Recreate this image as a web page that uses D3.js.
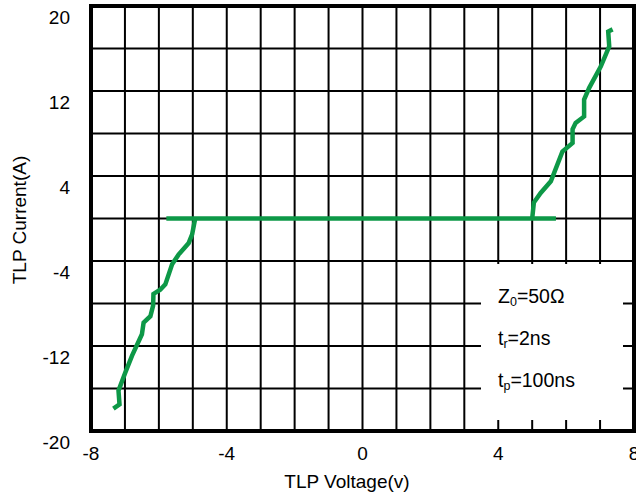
<!DOCTYPE html>
<html>
  <head>
    <meta charset="utf-8">
    <script src="https://d3js.org/d3.v7.min.js"></script>
    <style>
      body { margin: 0; background: #fff; }
      text { font-family: "Liberation Sans", Arial, sans-serif; fill: #000; }
    </style>
  </head>
  <body>
    <script type="text/javascript">
      // tick labels
      var xTicks = [-8, -4, 0, 4, 8];
      var yTicks = [20, 12, 4, -4, -12, -20];

      // TLP curve (volts, amps)
      var negV = [-4.93, -5.02, -5.12, -5.42, -5.61, -5.81, -5.96, -6.16, -6.17, -6.25, -6.45, -6.50, -6.79, -6.99, -7.19, -7.16, -7.34];
      var negI = [0, -1.5, -2.3, -3.4, -4.3, -6.2, -6.7, -7.1, -8.2, -9.2, -9.8, -10.9, -12.9, -14.5, -16.2, -17.5, -17.9];
      var flatV = [-5.78, 5.7];
      var flatI = [0, 0];
      var posV = [5.0, 5.05, 5.25, 5.55, 5.89, 6.19, 6.19, 6.28, 6.53, 6.53, 6.68, 7.02, 7.27, 7.24, 7.37];
      var posI = [0, 1.5, 2.4, 3.5, 6.3, 7.1, 8.4, 9.0, 9.6, 11.2, 12.3, 14.3, 16.2, 17.6, 17.8];

      var legendRows = [["Z", "0", "=50Ω"], ["t", "r", "=2ns"], ["t", "p", "=100ns"]];

      var w = 636, h = 495;
      var x = d3.scaleLinear().domain([-8, 8]).range([91, 634]);
      var y = d3.scaleLinear().domain([-20, 20]).range([431, 6]);
      var green = "#0d9847";

      var svg = d3.select("body").append("svg")
        .attr("width", w)
        .attr("height", h);

      // grid
      svg.append("g").selectAll("line").data(d3.range(-7, 8, 1)).enter().append("line")
        .attr("x1", d => x(d)).attr("x2", d => x(d))
        .attr("y1", y(20)).attr("y2", y(-20))
        .attr("stroke", "#000").attr("stroke-width", 2);

      svg.append("g").selectAll("line").data(d3.range(-16, 17, 4)).enter().append("line")
        .attr("x1", x(-8)).attr("x2", x(8))
        .attr("y1", d => y(d)).attr("y2", d => y(d))
        .attr("stroke", "#000").attr("stroke-width", 2);

      // legend box blanks out the grid
      svg.append("rect")
        .attr("x", 481).attr("y", 264)
        .attr("width", 142).attr("height", 156)
        .attr("fill", "#fff");

      // frame
      svg.append("rect")
        .attr("x", x(-8)).attr("y", y(20))
        .attr("width", x(8) - x(-8)).attr("height", y(-20) - y(20))
        .attr("fill", "none").attr("stroke", "#000").attr("stroke-width", 4);

      // curve
      var line = d3.line().x(d => x(d[0])).y(d => y(d[1]));
      [[negV, negI], [flatV, flatI], [posV, posI]].forEach(function(s) {
        svg.append("path").datum(d3.zip(s[0], s[1]))
          .attr("fill", "none")
          .attr("stroke", green)
          .attr("stroke-width", 4.5)
          .attr("d", line);
      });

      // tick labels
      svg.append("g").selectAll("text").data(yTicks).enter().append("text")
        .attr("x", 70)
        .attr("y", d => y(d) + 18)
        .attr("text-anchor", "end")
        .style("font-size", "19px")
        .text(d => d);

      svg.append("g").selectAll("text").data(xTicks).enter().append("text")
        .attr("x", d => x(d))
        .attr("y", 460)
        .attr("text-anchor", "middle")
        .style("font-size", "19px")
        .text(d => d);

      // axis titles
      svg.append("text")
        .attr("x", 347).attr("y", 488)
        .attr("text-anchor", "middle")
        .style("font-size", "19px")
        .text("TLP Voltage(v)");

      svg.append("text")
        .attr("transform", "translate(26,220) rotate(-90)")
        .attr("text-anchor", "middle")
        .style("font-size", "19px")
        .text("TLP Current(A)");

      // legend
      var lg = svg.append("g").selectAll("text").data(legendRows).enter().append("text")
        .attr("x", 498)
        .attr("y", (d, i) => 303 + i * 42)
        .style("font-size", "19.5px");
      lg.append("tspan").text(d => d[0]);
      lg.append("tspan").attr("dy", 3).style("font-size", "12.5px").text(d => d[1]);
      lg.append("tspan").attr("dy", -3).text(d => d[2]);
    </script>
  </body>
</html>
